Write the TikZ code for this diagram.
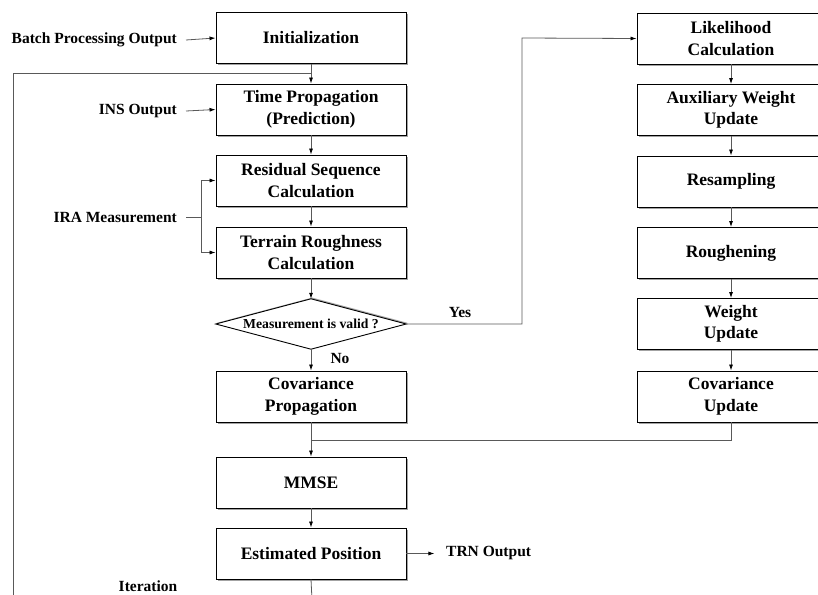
\documentclass[tikz,border=0pt]{standalone}
\usepackage{fontspec}
\setmainfont{Liberation Serif}
\usetikzlibrary{shadows,arrows.meta}
\begin{document}
\begin{tikzpicture}[x=1pt,y=-1pt,
  box/.style={draw=black,line width=0.9pt,fill=white,minimum width=190pt,minimum height=51pt,inner sep=0pt,align=center,font=\fontsize{17.5}{21.5}\selectfont\bfseries,
    drop shadow={shadow xshift=1.6pt,shadow yshift=-1.6pt,fill=black!45,opacity=0.8}},
  lab/.style={font=\fontsize{15.5}{18}\selectfont\bfseries,inner sep=0pt},
  conn/.style={draw=black!65,line width=0.8pt},
  arr/.style={conn,-{Latex[length=6pt,width=4pt,color=black]}}]
\clip (0,0) rectangle (818,594);
\useasboundingbox (0,0) rectangle (818,594);
% left column
\node[box] (init) at (311,38) {Initialization};
\node[box] (tp) at (311,109.5) {Time Propagation\\(Prediction)};
\node[box] (rs) at (311,180.5) {Residual Sequence\\Calculation};
\node[box] (tr) at (311,252.5) {Terrain Roughness\\Calculation};
\node[minimum width=190pt,minimum height=50pt,inner sep=0pt] (dec) at (311,324) {};
\fill[black!35] ([xshift=1.2pt,yshift=1.2pt]dec.west) -- ([xshift=1.2pt,yshift=1.2pt]dec.north) -- ([xshift=1.2pt,yshift=1.2pt]dec.east) -- ([xshift=1.2pt,yshift=1.2pt]dec.south) -- cycle;
\filldraw[draw=black,fill=white,line width=0.9pt] (dec.west) -- (dec.north) -- (dec.east) -- (dec.south) -- cycle;
\node[font=\fontsize{13.7}{16}\selectfont\bfseries,inner sep=0pt] (dectext) at (dec.center) {Measurement is valid ?};
\node[box] (cp) at (311,396.5) {Covariance\\Propagation};
\node[box] (mmse) at (311,482.5) {MMSE};
\node[box] (ep) at (311,553.5) {Estimated Position};
% right column
\node[box,minimum width=188pt] (lik) at (731,38.5) {Likelihood\\Calculation};
\node[box,minimum width=188pt] (aux) at (731,110) {Auxiliary Weight\\Update};
\node[box,minimum width=188pt] (res) at (731,181.5) {Resampling};
\node[box,minimum width=188pt] (rough) at (731,253) {Roughening};
\node[box,minimum width=188pt] (wu) at (731,324) {Weight\\Update};
\node[box,minimum width=188pt] (cu) at (731,396.5) {Covariance\\Update};
% side labels
\node[lab,anchor=east] (batch) at (177,40) {Batch Processing Output};
\node[lab,anchor=east] (ins) at (177,111) {INS Output};
\node[lab,anchor=east] (ira) at (177,217) {IRA Measurement};
\node[lab,anchor=west] (trn) at (446,553.5) {TRN Output};
\node[lab] (iter) at (148,586) {Iteration};
\node[lab] (yes) at (460,312) {Yes};
\node[lab] (no) at (340,358) {No};
% coordinates
\coordinate (loopa) at (312,600);
\coordinate (loopb) at (13,600);
\coordinate (loopc) at (13,73);
\coordinate (loopd) at (311,73);
\coordinate (irasplit) at (201,217);
\coordinate (yesa) at (522,324);
\coordinate (yesb) at (522,38);
\coordinate (merge) at (311,440);
% connectors
\draw[arr] (batch.east) ++(9,0) -- (init.west);
\draw[arr] (ins.east) ++(9,0) -- (tp.west);
\draw[conn] (ira.east) ++(9,0) -- (irasplit);
\draw[arr] (irasplit) |- (rs.west);
\draw[arr] (irasplit) |- (tr.west);
\draw[arr] (init) -- (tp);
\draw[conn] (loopa) -- (loopb) -- (loopc) -- (loopd);
\draw[conn] (ep.south) -- (loopa);
\draw[arr] (tp) -- (rs);
\draw[arr] (rs) -- (tr);
\draw[arr] (tr) -- (dec.north);
\draw[arr] (dec.south) -- (cp);
\draw[arr] (dec.east) -- (yesa) -- (yesb) -- (lik.west);
\draw[arr] (lik) -- (aux);
\draw[arr] (aux) -- (res);
\draw[arr] (res) -- (rough);
\draw[arr] (rough) -- (wu);
\draw[arr] (wu) -- (cu);
\draw[conn] (cp.south) -- (merge);
\draw[conn] (cu.south) |- (merge);
\draw[arr] (merge) -- (mmse.north);
\draw[arr] (mmse) -- (ep);
\draw[arr] (ep.east) -- ++(28,0);
\end{tikzpicture}
\end{document}
